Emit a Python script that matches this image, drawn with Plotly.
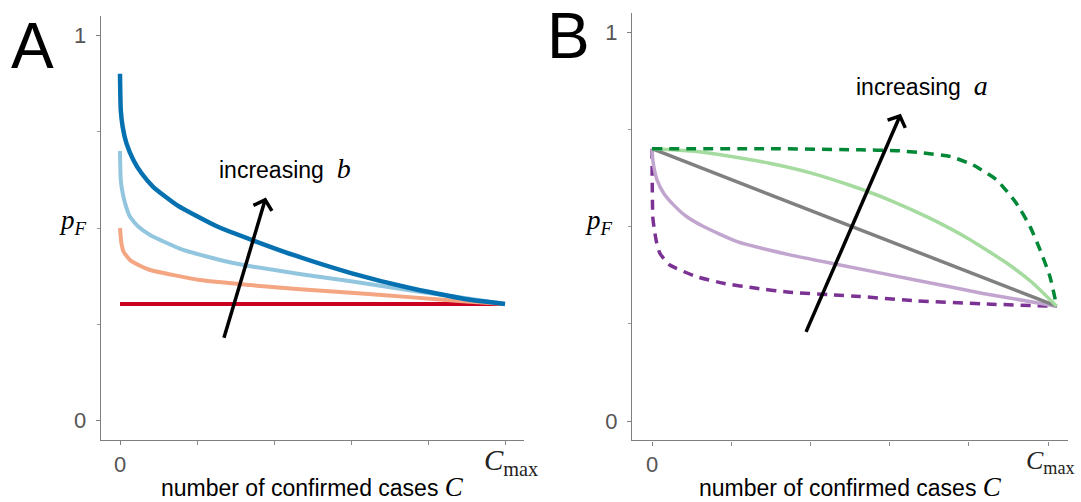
import math
import plotly.graph_objects as go

W, H = 1081, 502

# ---------------- Panel A data (x = C / Cmax, y = p_F) ----------------
a_dark_x = [0, 0.002, 0.007, 0.017, 0.035, 0.056, 0.086, 0.15, 0.25, 0.35, 0.45, 0.6, 0.75, 0.9, 1.0]
a_dark_y = [0.90, 0.806, 0.762, 0.719, 0.676, 0.642, 0.607, 0.558, 0.505, 0.466, 0.430, 0.383, 0.345, 0.315, 0.303]

a_light_x = [0, 0.002, 0.007, 0.016, 0.026, 0.048, 0.078, 0.164, 0.294, 0.47, 0.6, 0.76, 0.9, 1.0]
a_light_y = [0.70, 0.624, 0.590, 0.555, 0.529, 0.503, 0.482, 0.443, 0.409, 0.380, 0.362, 0.337, 0.318, 0.303]

a_salmon_x = [0, 0.003, 0.009, 0.026, 0.052, 0.078, 0.208, 0.338, 0.468, 0.6, 0.76, 0.9, 1.0]
a_salmon_y = [0.50, 0.465, 0.439, 0.417, 0.402, 0.391, 0.365, 0.352, 0.341, 0.332, 0.320, 0.309, 0.303]

a_red_x = [0, 1.0]
a_red_y = [0.303, 0.303]

# ---------------- Panel B data ----------------
b_grey_x = [0, 1.022]
b_grey_y = [0.70, 0.295]

b_green_x = [0, 0.1, 0.2, 0.3, 0.4, 0.5, 0.6, 0.7, 0.8, 0.9, 0.96, 1.022]
b_green_y = [0.700, 0.694, 0.680, 0.662, 0.638, 0.606, 0.568, 0.522, 0.468, 0.403, 0.356, 0.295]

b_green_dash_x = [0, 0.3, 0.525, 0.618, 0.685, 0.753, 0.811, 0.87, 0.92, 0.955, 0.98, 1.005, 1.022]
b_green_dash_y = [0.70, 0.70, 0.697, 0.695, 0.689, 0.680, 0.658, 0.620, 0.560, 0.499, 0.44, 0.371, 0.295]

b_purple_x = [0, 0.0025, 0.0126, 0.03, 0.055, 0.088, 0.13, 0.215, 0.348, 0.475, 0.668, 0.836, 1.022]
b_purple_y = [0.70, 0.667, 0.620, 0.585, 0.555, 0.525, 0.500, 0.461, 0.427, 0.401, 0.362, 0.328, 0.295]

b_purple_dash_x = [0, 0.0005, 0.002, 0.006, 0.012, 0.02, 0.045, 0.113, 0.18, 0.264, 0.348, 0.458, 0.525, 0.668, 0.836, 1.022]
b_purple_dash_y = [0.70, 0.62, 0.525, 0.491, 0.457, 0.431, 0.401, 0.371, 0.354, 0.341, 0.331, 0.324, 0.320, 0.309, 0.301, 0.295]

# arrows (data coords of each panel): tail -> tip
arrow_a = [(0.27, 0.215), (0.377, 0.573)]
arrow_b = [(0.389, 0.229), (0.626, 0.784)]

x_ticks = [0]
x_ticktext = ["0"]
y_ticks = [0, 1.0]
y_ticktext = ["0", "1"]

# ---------------- layout geometry (pixels) ----------------
A_X = (100.75, 524.25)
A_Y = (16.0, 440.0)
B_X = (632.2, 1067.8)
B_Y = (12.55, 440.45)
RNG = [-0.05, 1.05]

fig = go.Figure()


def add_line(x, y, color, width, xa, ya, dash="solid"):
    fig.add_trace(go.Scatter(x=x, y=y, mode="lines", xaxis=xa, yaxis=ya,
                             line=dict(color=color, width=width, dash=dash,
                                       shape="spline", smoothing=0.5),
                             hoverinfo="skip", showlegend=False))


add_line(a_red_x, a_red_y, "#ca0020", 4, "x", "y")
add_line(a_salmon_x, a_salmon_y, "#f4a582", 4, "x", "y")
add_line(a_light_x, a_light_y, "#92c5de", 4, "x", "y")
add_line(a_dark_x, a_dark_y, "#0571b0", 4.5, "x", "y")

add_line(b_purple_dash_x, b_purple_dash_y, "#7b3294", 3.5, "x2", "y2", dash="10px,7px")
add_line(b_purple_x, b_purple_y, "#c2a5cf", 3.5, "x2", "y2")
add_line(b_grey_x, b_grey_y, "#808080", 3.5, "x2", "y2")
add_line(b_green_x, b_green_y, "#a6dba0", 3.5, "x2", "y2")
add_line(b_green_dash_x, b_green_dash_y, "#008837", 3.5, "x2", "y2", dash="10px,7px")

axis_common = dict(range=RNG, showline=True, linecolor="#7f7f7f", linewidth=1.4,
                   ticks="outside", ticklen=4, tickwidth=1, tickcolor="#7f7f7f",
                   showgrid=False, zeroline=False, fixedrange=True,
                   tickfont=dict(family="Liberation Sans, Arial, sans-serif", size=22, color="#555555"))

minor_x = dict(tick0=0, dtick=0.2, ticks="outside", ticklen=4, tickcolor="#8a8a8a", tickwidth=1, showgrid=False)
minor_y = dict(tick0=0, dtick=0.25, ticks="outside", ticklen=3, tickcolor="#9a9a9a", tickwidth=1, showgrid=False)


def dom_x(px):
    return [px[0] / W, px[1] / W]


def dom_y(py):
    return [(H - py[1]) / H, (H - py[0]) / H]


fig.update_layout(
    width=W, height=H, margin=dict(l=0, r=0, t=0, b=0),
    paper_bgcolor="white", plot_bgcolor="white", showlegend=False,
    xaxis=dict(domain=dom_x(A_X), anchor="y", tickvals=x_ticks, ticktext=x_ticktext,
               minor=minor_x, **axis_common),
    yaxis=dict(domain=dom_y(A_Y), anchor="x", tickvals=y_ticks, ticktext=y_ticktext,
               ticklabelstandoff=5, minor=minor_y, **axis_common),
    xaxis2=dict(domain=dom_x(B_X), anchor="y2", tickvals=x_ticks, ticktext=x_ticktext,
                minor=minor_x, **axis_common),
    yaxis2=dict(domain=dom_y(B_Y), anchor="x2", tickvals=y_ticks, ticktext=y_ticktext,
                ticklabelstandoff=5, minor=minor_y, **axis_common),
)


def to_px(pt, PX, PY):
    x, y = pt
    fx = (x - RNG[0]) / (RNG[1] - RNG[0])
    fy = (y - RNG[0]) / (RNG[1] - RNG[0])
    return PX[0] + fx * (PX[1] - PX[0]), PY[1] - fy * (PY[1] - PY[0])


def paper(px, py):
    return px / W, (H - py) / H


def add_arrow(arr, PX, PY):
    (tx, ty) = to_px(arr[0], PX, PY)
    (hx, hy) = to_px(arr[1], PX, PY)
    dx, dy = hx - tx, hy - ty
    L = math.hypot(dx, dy)
    ux, uy = -dx / L, -dy / L  # back direction
    ang = math.radians(48)
    arm = 13
    pts = []
    for s in (1, -1):
        ca, sa = math.cos(s * ang), math.sin(s * ang)
        pts.append((hx + arm * (ux * ca - uy * sa), hy + arm * (ux * sa + uy * ca)))
    T = paper(tx, ty)
    Hh = paper(hx, hy)
    P1 = paper(*pts[0])
    P2 = paper(*pts[1])
    fig.add_shape(type="path", xref="paper", yref="paper",
                  path=f"M {T[0]},{T[1]} L {Hh[0]},{Hh[1]}",
                  line=dict(color="black", width=3.5))
    fig.add_shape(type="path", xref="paper", yref="paper",
                  path=f"M {P1[0]},{P1[1]} L {Hh[0]},{Hh[1]} L {P2[0]},{P2[1]}",
                  line=dict(color="black", width=3.5))


add_arrow(arrow_a, A_X, A_Y)
add_arrow(arrow_b, B_X, B_Y)


def ann(px, py, text, size, family="Liberation Sans, Arial, sans-serif", color="black", xanchor="center"):
    x, y = paper(px, py)
    fig.add_annotation(x=x, y=y, xref="paper", yref="paper", text=text, showarrow=False,
                       xanchor=xanchor, yanchor="middle",
                       font=dict(family=family, size=size, color=color))


serif = "'Liberation Serif', 'DejaVu Serif', serif"
ann(32, 46, "A", 64)
ann(568, 36, "B", 64)

ann(73, 222, "<i>p<sub>F</sub></i>", 27, family=serif)
ann(599, 222, "<i>p<sub>F</sub></i>", 27, family=serif)

cmax = "<i>C</i><sub>max</sub>"
ann(511, 462, cmax, 29, family=serif, color="#222222")
ann(1024, 462, cmax, 26, family=serif, color="#222222", xanchor="left")

inc_b = 'increasing  <span style="font-family:\'Liberation Serif\';font-size:28px"><i>b</i></span>'
inc_a = 'increasing  <span style="font-family:\'Liberation Serif\';font-size:28px"><i>a</i></span>'
ann(285, 168, inc_b, 23)
ann(922, 86, inc_a, 23)

xt = 'number of confirmed cases <span style="font-family:\'Liberation Serif\';font-size:27px"><i>C</i></span>'
ann((A_X[0] + A_X[1]) / 2, 487, xt, 23)
ann((B_X[0] + B_X[1]) / 2, 487, xt, 23)

fig.write_html("out.html")
